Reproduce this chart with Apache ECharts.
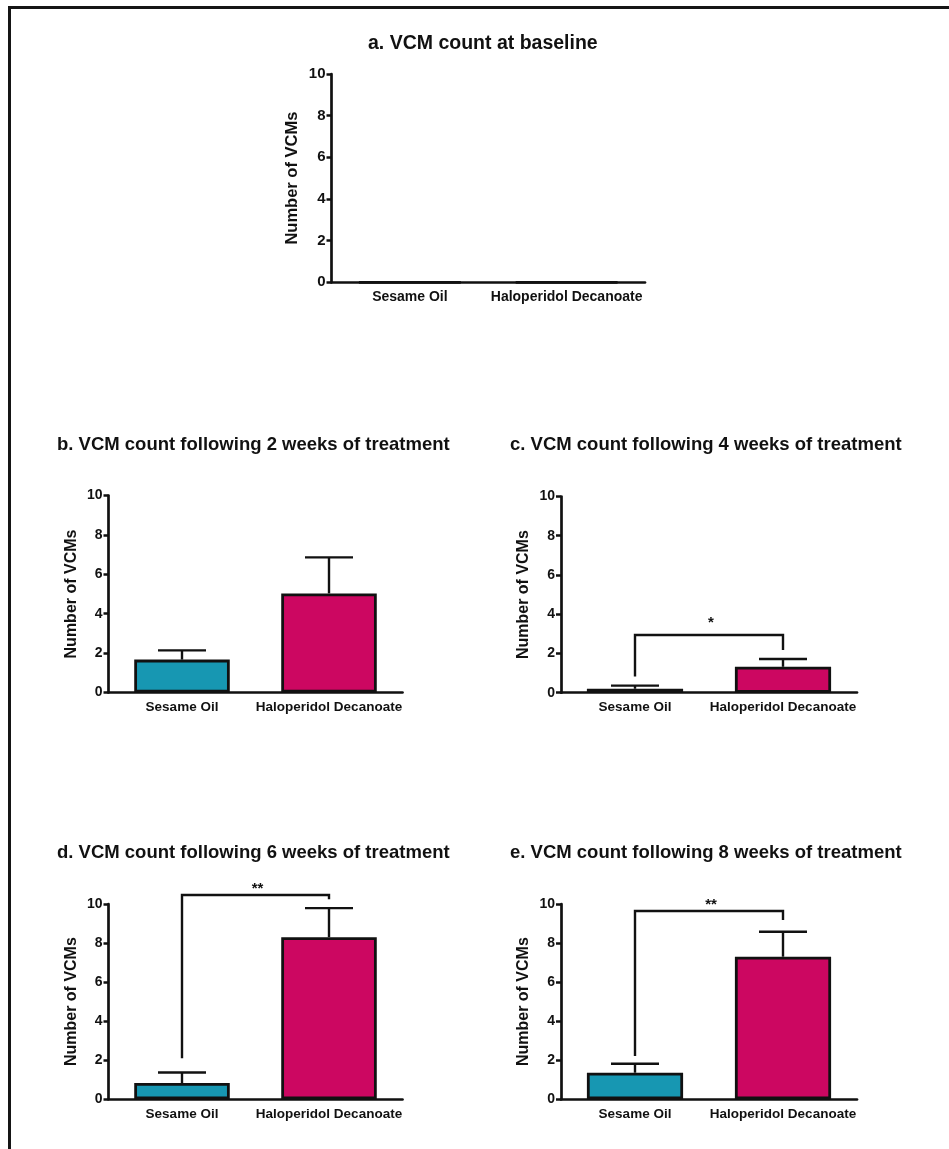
<!DOCTYPE html>
<html>
<head>
<meta charset="utf-8">
<title>VCM count</title>
<script src="https://cdn.jsdelivr.net/npm/echarts@6/dist/echarts.min.js"></script>
<style>
  html, body { margin: 0; padding: 0; background: #fff; }
  #chart { width: 949px; height: 1149px; }
  #frame {
    position: absolute; left: 8px; top: 6px; right: 0; bottom: 0;
    border-top: 3px solid #151515; border-left: 3px solid #151515;
    pointer-events: none;
  }
</style>
</head>
<body>
<div id="chart"></div>
<div id="frame"></div>
<script>
// Treatment groups (x categories)
const categories = ['Sesame Oil', 'Haloperidol Decanoate'];

// Panel titles
const titles = [
  'a. VCM count at baseline',
  'b. VCM count following 2 weeks of treatment',
  'c. VCM count following 4 weeks of treatment',
  'd. VCM count following 6 weeks of treatment',
  'e. VCM count following 8 weeks of treatment'
];

// Y scale
const yMin = 0, yMax = 10, yStep = 2;

// Mean VCM counts and SEM per group
const meanBaseline = [0, 0];
const semBaseline  = [0, 0];
const mean2wk = [1.67, 5.03];
const sem2wk  = [0.47, 1.83];
const mean4wk = [0.20, 1.32];
const sem4wk  = [0.16, 0.40];
const mean6wk = [0.83, 8.30];
const sem6wk  = [0.54, 1.49];
const mean8wk = [1.36, 7.30];
const sem8wk  = [0.46, 1.28];

// Significance brackets: [left foot, bracket height, right foot]
const sig4wk = [0.82, 2.94, 2.18];
const sig6wk = [2.10, 10.46, 10.24];
const sig8wk = [2.22, 9.64, 9.18];
const stars4wk = '*';
const stars6wk = '**';
const stars8wk = '**';

const panels = [
  { mean: meanBaseline, sem: semBaseline, sig: null, stars: '' },
  { mean: mean2wk, sem: sem2wk, sig: null, stars: '' },
  { mean: mean4wk, sem: sem4wk, sig: sig4wk, stars: stars4wk },
  { mean: mean6wk, sem: sem6wk, sig: sig6wk, stars: stars6wk },
  { mean: mean8wk, sem: sem8wk, sig: sig8wk, stars: stars8wk }
];

// Layout of each panel (pixels)
const layout = [
  { grid: { left: 331.5, top: 74, width: 313.5, height: 208.3 }, title: { left: 368, top: 34 }, titleSize: 19.5, tick: 15, cat: 14, name: 16.5, nameGap: 31, starLift: 12 },
  { grid: { left: 108.5, top: 495.5, width: 294, height: 197 }, title: { left: 57, top: 435 }, titleSize: 18.5, tick: 14, cat: 13.5, name: 16, nameGap: 29, starLift: 12 },
  { grid: { left: 561, top: 496.5, width: 296, height: 196.2 }, title: { left: 510, top: 435 }, titleSize: 18.5, tick: 14, cat: 13.5, name: 16, nameGap: 29, starLift: 12 },
  { grid: { left: 108.5, top: 904, width: 294, height: 195.2 }, title: { left: 57, top: 843 }, titleSize: 18.5, tick: 14, cat: 13.5, name: 16, nameGap: 29, starLift: 6 },
  { grid: { left: 561, top: 904, width: 296, height: 195.3 }, title: { left: 510, top: 843 }, titleSize: 18.5, tick: 14, cat: 13.5, name: 16, nameGap: 29, starLift: 6 }
];

const barColors = ['#1797b2', '#cc0761'];
const ink = '#111111';
const font = '"Liberation Sans", Arial, Helvetica, sans-serif';

// Upper SEM whisker with a centred cap
function errorBarItem(params, api) {
  const i = api.value(0), m = api.value(1), s = api.value(2);
  if (!s) return null;
  const base = api.coord([i, m]);
  const top = api.coord([i, m + s]);
  const st = { stroke: ink, lineWidth: 2.4 };
  return {
    type: 'group',
    children: [
      { type: 'line', shape: { x1: base[0], y1: base[1], x2: top[0], y2: top[1] }, style: st },
      { type: 'line', shape: { x1: top[0] - 24, y1: top[1], x2: top[0] + 24, y2: top[1] }, style: st }
    ]
  };
}

// Significance bracket between the two groups, with its asterisks
function bracketRenderer(stars, lift) {
  return function (params, api) {
    const h = api.value(1);
    const p1 = api.coord([api.value(0), api.value(2)]);
    const p2 = api.coord([api.value(0), h]);
    const p3 = api.coord([api.value(3), h]);
    const p4 = api.coord([api.value(3), api.value(4)]);
    return {
      type: 'group',
      children: [
        { type: 'polyline', shape: { points: [p1, p2, p3, p4] },
          style: { stroke: ink, lineWidth: 2.4, fill: null } },
        { type: 'text', x: (p2[0] + p3[0]) / 2 + 2, y: p2[1] - lift,
          style: { text: stars, fill: ink, font: 'bold 15px ' + font, align: 'center', verticalAlign: 'middle' } }
      ]
    };
  };
}

const option = {
  animation: false,
  backgroundColor: '#ffffff',
  textStyle: { fontFamily: font, color: ink },
  title: [],
  grid: [],
  xAxis: [],
  yAxis: [],
  series: []
};

panels.forEach((p, k) => {
  const L = layout[k];
  option.title.push({
    text: titles[k], left: L.title.left, top: L.title.top, padding: 0,
    textStyle: { fontFamily: font, fontWeight: 'bold', fontSize: L.titleSize, color: ink }
  });
  option.grid.push(Object.assign({ containLabel: false }, L.grid));
  option.xAxis.push({
    type: 'category', gridIndex: k, data: categories,
    axisLine: { lineStyle: { color: ink, width: 2.7 } },
    axisTick: { alignWithLabel: true, length: 6, lineStyle: { color: ink, width: 2.5 } },
    axisLabel: { margin: 8, color: ink, fontFamily: font, fontWeight: 'bold', fontSize: L.cat, interval: 0 },
    splitLine: { show: false }
  });
  option.yAxis.push({
    type: 'value', gridIndex: k, min: yMin, max: yMax, interval: yStep,
    name: 'Number of VCMs', nameLocation: 'middle', nameGap: L.nameGap,
    nameTextStyle: { fontFamily: font, fontWeight: 'bold', fontSize: L.name, color: ink },
    axisLine: { show: true, lineStyle: { color: ink, width: 2.7 } },
    axisTick: { show: true, length: 5, lineStyle: { color: ink, width: 2.5 } },
    axisLabel: { margin: 6, color: ink, fontFamily: font, fontWeight: 'bold', fontSize: L.tick },
    splitLine: { show: false }
  });
  option.series.push({
    type: 'bar', xAxisIndex: k, yAxisIndex: k, barWidth: '65%',
    data: p.mean.map((v, i) => ({ value: v, itemStyle: { color: barColors[i] } })),
    itemStyle: { borderColor: ink, borderWidth: 2.8 },
    z: 2
  });
  option.series.push({
    type: 'custom', xAxisIndex: k, yAxisIndex: k, renderItem: errorBarItem,
    data: p.mean.map((v, i) => [i, v, p.sem[i]]), z: 3, clip: false
  });
  if (p.sig) {
    option.series.push({
      type: 'custom', xAxisIndex: k, yAxisIndex: k, clip: false, z: 4,
      data: [[0, p.sig[1], p.sig[0], 1, p.sig[2]]],
      renderItem: bracketRenderer(p.stars, L.starLift)
    });
  }
});

const chart = echarts.init(document.getElementById('chart'), null, { renderer: 'canvas' });
chart.setOption(option);
</script>
</body>
</html>
